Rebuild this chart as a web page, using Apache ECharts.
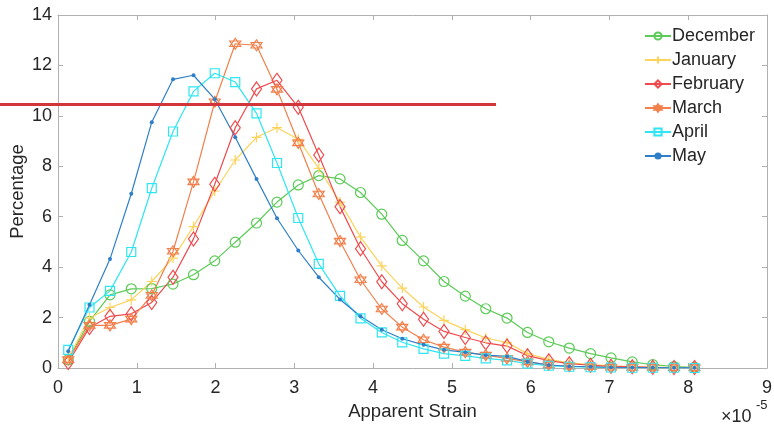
<!DOCTYPE html>
<html><head><meta charset="utf-8">
<script src="https://cdn.jsdelivr.net/npm/echarts@6/dist/echarts.min.js"></script>
<style>html,body{margin:0;padding:0;background:#fff}#c{width:774px;height:427px}</style>
</head><body><div id="c"></div>
<script>
const strain = [0.13,0.40,0.66,0.93,1.19,1.46,1.72,1.99,2.25,2.52,2.78,3.05,3.31,3.58,3.84,4.11,4.37,4.64,4.90,5.17,5.43,5.70,5.96,6.23,6.49,6.76,7.02,7.29,7.55,7.82,8.08];
const december = [0.33,1.85,2.90,3.14,3.15,3.33,3.70,4.25,4.99,5.75,6.58,7.26,7.63,7.50,6.96,6.10,5.06,4.25,3.43,2.85,2.35,1.98,1.41,1.04,0.79,0.57,0.40,0.24,0.13,0.06,0.03];
const january = [0.40,1.98,2.40,2.70,3.43,4.36,5.61,7.02,8.25,9.15,9.53,9.07,7.92,6.58,5.19,4.05,3.17,2.42,1.89,1.52,1.19,1.01,0.57,0.34,0.20,0.13,0.09,0.06,0.04,0.03,0.02];
const february = [0.22,1.61,2.05,2.15,2.60,3.60,5.12,7.29,9.53,11.07,11.41,10.34,8.45,6.40,4.73,3.42,2.55,1.93,1.45,1.21,1.00,0.87,0.49,0.29,0.17,0.11,0.07,0.05,0.03,0.02,0.02];
const march = [0.33,1.69,1.69,1.94,2.88,4.63,7.38,10.56,12.86,12.80,11.05,8.93,6.90,5.03,3.50,2.34,1.62,1.12,0.83,0.63,0.51,0.38,0.24,0.12,0.07,0.05,0.03,0.02,0.02,0.01,0.01];
const april = [0.72,2.40,3.06,4.60,7.13,9.38,10.97,11.69,11.34,10.10,8.13,5.95,4.13,2.86,1.97,1.41,1.02,0.76,0.57,0.48,0.38,0.30,0.17,0.09,0.05,0.03,0.02,0.01,0.01,0.01,0.00];
const may = [0.66,2.51,4.32,6.91,9.75,11.45,11.61,10.66,9.15,7.50,5.94,4.66,3.60,2.72,2.05,1.52,1.16,0.92,0.72,0.62,0.51,0.46,0.25,0.12,0.07,0.05,0.03,0.02,0.02,0.01,0.01];
const seriesNames = ['December','January','February','March','April','May'];
const refLine = { value: 10.45, xEnd: 5.56 };

const FONT = "'Liberation Sans', Arial, sans-serif";
const TXT = '#262626';
const AX = '#b0b0b0';
const pts = ys => ys.map((y,i)=>[strain[i], y]);
const hexagram = 'path://M50 0L93.3 75L6.7 75Z M50 100L6.7 25L93.3 25Z';
const plus = 'path://M5 0L5 10M0 5L10 5';

const defs = [
  {name:'December', data:december, color:'#5ccb57', symbol:'circle', size:10},
  {name:'January', data:january, color:'#fdd35c', symbol:plus, size:10},
  {name:'February', data:february, color:'#ef4b4e', symbol:'diamond', size:[10,14]},
  {name:'March', data:march, color:'#f2804c', symbol:hexagram, size:11},
  {name:'April', data:april, color:'#2ee6f2', symbol:'rect', size:9},
  {name:'May', data:may, color:'#2f7fc8', symbol:'circle', size:4, filled:true}
];

const chart = echarts.init(document.getElementById('c'), null, {renderer:'canvas'});
const axisCommon = {
  min:0, axisLine:{show:true, onZero:false, lineStyle:{color:AX, width:1}},
  axisTick:{show:true, inside:true, length:5, lineStyle:{color:AX}},
  splitLine:{show:false}
};
chart.setOption({
  animation:false,
  backgroundColor:'#fff',
  textStyle:{fontFamily:FONT},
  grid:{left:58, right:7, top:15, bottom:59, containLabel:false, outerBoundsMode:'none'},
  legend:{
    orient:'vertical', left:639, top:22, itemWidth:26, itemHeight:9, itemGap:6,
    textStyle:{fontFamily:FONT, fontSize:18, color:TXT, padding:[0,0,0,-4]},
    data:seriesNames
  },
  xAxis:[
    Object.assign({}, axisCommon, {type:'value', max:9, interval:1, position:'bottom',
      axisLabel:{color:TXT, fontSize:18, fontFamily:FONT, margin:11},
      name:'Apparent Strain', nameLocation:'middle', nameGap:34, nameMoveOverlap:false,
      nameTextStyle:{color:TXT, fontSize:18.5, fontFamily:FONT}}),
    Object.assign({}, axisCommon, {type:'value', max:9, interval:1, position:'top', axisLabel:{show:false}})
  ],
  yAxis:[
    Object.assign({}, axisCommon, {type:'value', max:14, interval:2, position:'left',
      axisLabel:{color:TXT, fontSize:18, fontFamily:FONT, margin:6},
      name:'Percentage', nameLocation:'middle', nameGap:31, nameMoveOverlap:false,
      nameTextStyle:{color:TXT, fontSize:18.5, fontFamily:FONT}}),
    Object.assign({}, axisCommon, {type:'value', max:14, interval:2, position:'right', axisLabel:{show:false}})
  ],
  series: defs.map(d => ({
    name:d.name, type:'line', xAxisIndex:0, yAxisIndex:0,
    data:pts(d.data), symbol:d.symbol, symbolSize:d.size, showAllSymbol:true,
    lineStyle:{color:d.color, width:1.2},
    itemStyle: d.filled ? {color:d.color, borderColor:d.color, borderWidth:0}
                        : {color:'rgba(255,255,255,0)', borderColor:d.color, borderWidth:1.2},
    emphasis:{disabled:true}
  }))
});

const yPix = chart.convertToPixel({yAxisIndex:0}, refLine.value);
const xPix = chart.convertToPixel({xAxisIndex:0}, refLine.xEnd);
chart.setOption({
  graphic:[
    {type:'line', shape:{x1:0, y1:yPix, x2:xPix, y2:yPix}, style:{stroke:'#d2363c', lineWidth:3}, z:100},
    {type:'text', left:721, top:408, style:{text:'×10', fontSize:18, fontFamily:FONT, fill:TXT}},
    {type:'text', left:756, top:399, style:{text:'-5', fontSize:13, fontFamily:FONT, fill:TXT}}
  ]
});
</script></body></html>
